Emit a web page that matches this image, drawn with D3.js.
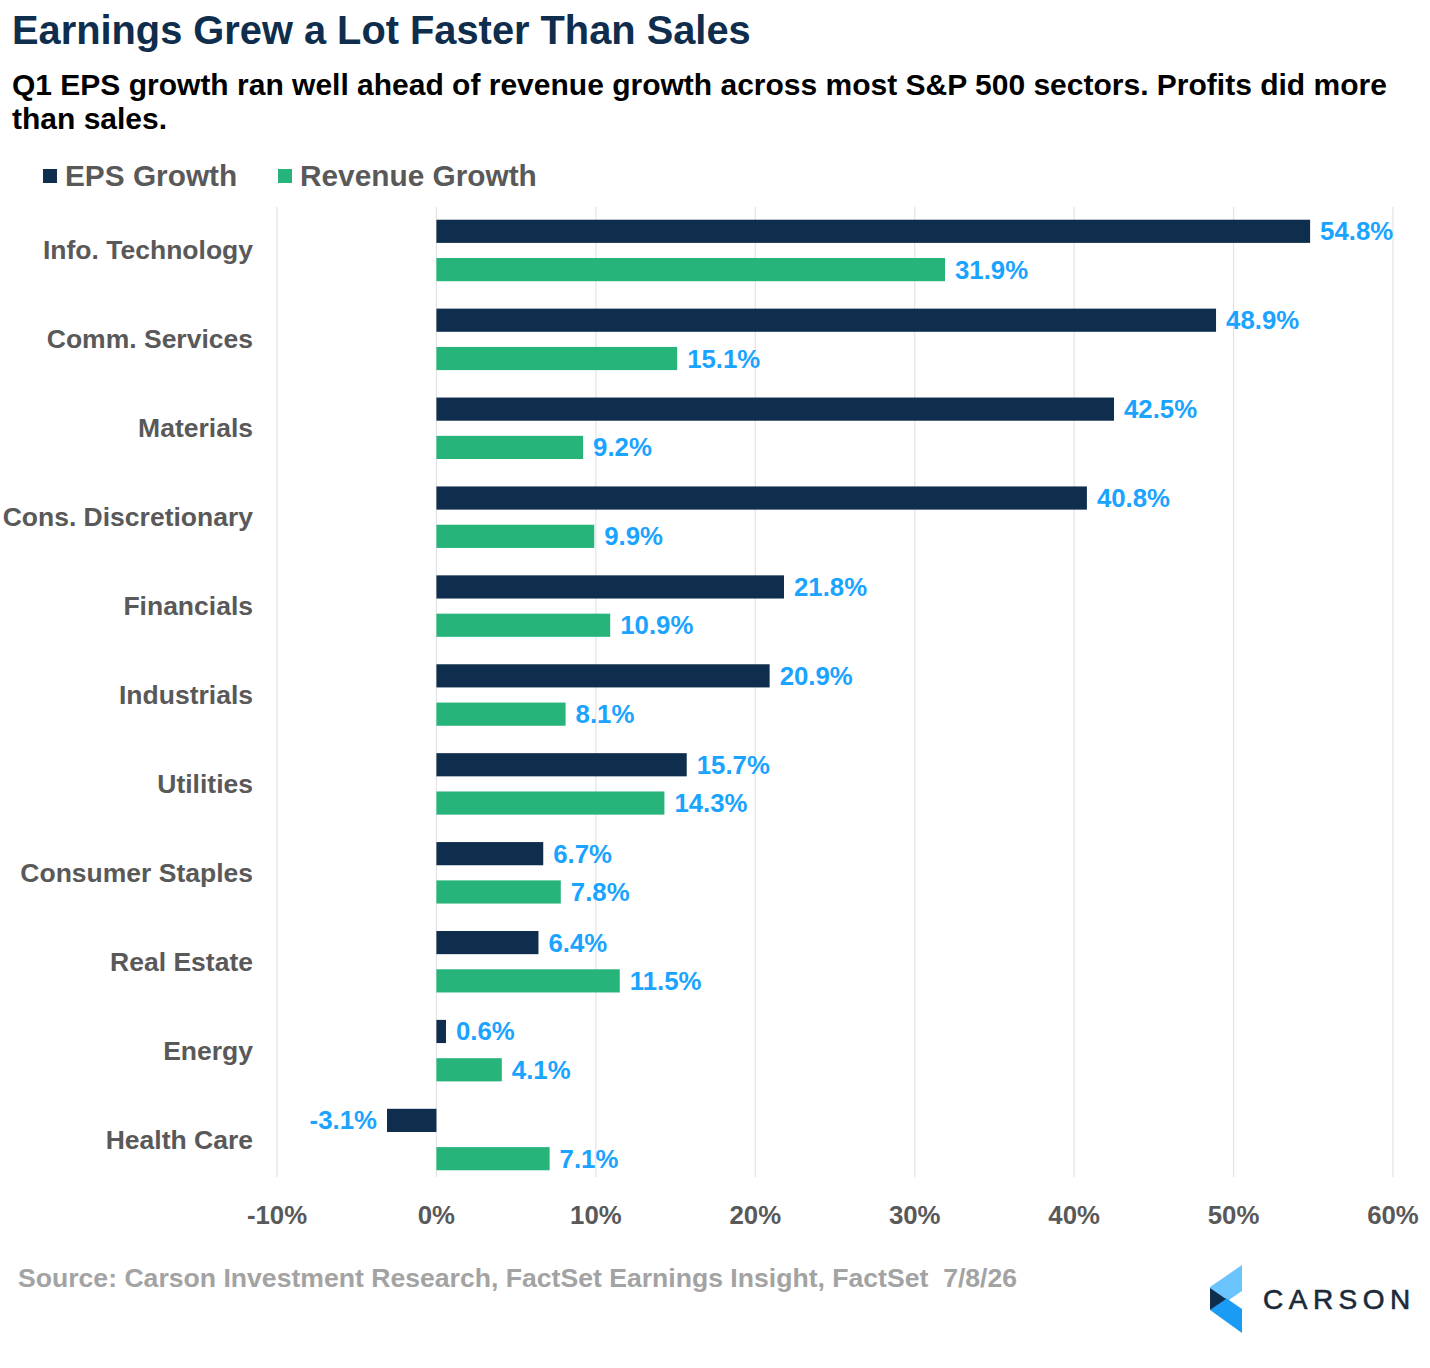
<!DOCTYPE html>
<html>
<head>
<meta charset="utf-8">
<script src="https://cdn.jsdelivr.net/npm/d3@7"></script>
<style>
  body { margin: 0; background: #fff; }
  svg { display: block; font-family: "Liberation Sans", Arial, sans-serif; }
</style>
</head>
<body>
<svg id="chart" width="1430" height="1368"></svg>
<script>
const sectors = ["Info. Technology", "Comm. Services", "Materials", "Cons. Discretionary",
  "Financials", "Industrials", "Utilities", "Consumer Staples", "Real Estate", "Energy", "Health Care"];
const epsGrowth = [54.8, 48.9, 42.5, 40.8, 21.8, 20.9, 15.7, 6.7, 6.4, 0.6, -3.1];
const revGrowth = [31.9, 15.1, 9.2, 9.9, 10.9, 8.1, 14.3, 7.8, 11.5, 4.1, 7.1];
const xTicks = [-10, 0, 10, 20, 30, 40, 50, 60];
const seriesNames = ["EPS Growth", "Revenue Growth"];
const seriesColors = ["#0f2d4c", "#26b47a"];

const svg = d3.select("#chart");
const labelColor = "#595959";
const valueColor = "#1aa3ff";

// titles
svg.append("text")
  .attr("x", 12).attr("y", 44)
  .attr("font-size", 39.8).attr("font-weight", 700)
  .attr("fill", "#0f2d4c")
  .text("Earnings Grew a Lot Faster Than Sales");

svg.append("text")
  .attr("x", 12).attr("y", 95)
  .attr("font-size", 30).attr("font-weight", 700).attr("fill", "#000")
  .text("Q1 EPS growth ran well ahead of revenue growth across most S&P 500 sectors. Profits did more");
svg.append("text")
  .attr("x", 12).attr("y", 129)
  .attr("font-size", 30).attr("font-weight", 700).attr("fill", "#000")
  .text("than sales.");

// legend
const legendX = [43, 278];
seriesNames.forEach((name, i) => {
  svg.append("rect")
    .attr("x", legendX[i]).attr("y", 169)
    .attr("width", 14).attr("height", 14)
    .attr("fill", seriesColors[i]);
  svg.append("text")
    .attr("x", legendX[i] + 22).attr("y", 186)
    .attr("font-size", 29.8).attr("font-weight", 700)
    .attr("fill", labelColor)
    .text(name);
});

// scales
const x = d3.scaleLinear().domain([-10, 60]).range([277, 1393]);
const y = d3.scaleBand().domain(sectors).range([206, 1184]);
const inner = d3.scaleBand().domain([0, 1]).range([0, y.bandwidth()])
  .paddingInner(0.395).paddingOuter(0.358);

// gridlines
svg.append("g")
  .selectAll("line")
  .data(xTicks)
  .join("line")
  .attr("x1", d => x(d)).attr("x2", d => x(d))
  .attr("y1", 207).attr("y2", 1177)
  .attr("stroke", "#e3e3e3").attr("stroke-width", 1.2);

// tick labels
svg.append("g")
  .selectAll("text")
  .data(xTicks)
  .join("text")
  .attr("x", d => x(d)).attr("y", 1224)
  .attr("text-anchor", "middle")
  .attr("font-size", 25.8).attr("font-weight", 700)
  .attr("fill", labelColor)
  .text(d => d + "%");

// category labels
svg.append("g")
  .selectAll("text")
  .data(sectors)
  .join("text")
  .attr("x", 253)
  .attr("y", d => y(d) + y.bandwidth() / 2 + 9)
  .attr("text-anchor", "end")
  .attr("font-size", 26.5).attr("font-weight", 700)
  .attr("fill", labelColor)
  .text(d => d);

// bars
const rows = [];
sectors.forEach((s, i) => {
  rows.push({ sector: s, series: 0, value: epsGrowth[i] });
  rows.push({ sector: s, series: 1, value: revGrowth[i] });
});

svg.append("g")
  .selectAll("rect")
  .data(rows)
  .join("rect")
  .attr("x", d => x(Math.min(0, d.value)))
  .attr("y", d => y(d.sector) + inner(d.series))
  .attr("width", d => Math.abs(x(d.value) - x(0)))
  .attr("height", inner.bandwidth())
  .attr("fill", d => seriesColors[d.series]);

// value labels
svg.append("g")
  .selectAll("text")
  .data(rows)
  .join("text")
  .attr("x", d => d.value < 0 ? x(d.value) - 10 : x(d.value) + 10)
  .attr("y", d => y(d.sector) + inner(d.series) + inner.bandwidth() / 2 + 9)
  .attr("text-anchor", d => d.value < 0 ? "end" : "start")
  .attr("font-size", 25.8).attr("font-weight", 700)
  .attr("fill", valueColor)
  .text(d => d.value.toFixed(1) + "%");

// source
svg.append("text")
  .attr("x", 18).attr("y", 1287)
  .attr("font-size", 26.6).attr("font-weight", 700)
  .attr("fill", "#a3a3a3")
  .style("white-space", "pre")
  .text("Source: Carson Investment Research, FactSet Earnings Insight, FactSet  7/8/26");

// logo
const logo = svg.append("g");
logo.append("polygon")
  .attr("points", "1242,1265 1242,1291 1226,1302 1210,1290 1210,1287")
  .attr("fill", "#6cc4ff");
logo.append("polygon")
  .attr("points", "1210,1310 1226,1298 1242,1309 1242,1333")
  .attr("fill", "#1a9cf5");
logo.append("polygon")
  .attr("points", "1210,1288 1226,1299 1210,1310")
  .attr("fill", "#0f2d4c");
logo.append("text")
  .attr("x", 1263).attr("y", 1309)
  .attr("font-size", 28).attr("font-weight", 400)
  .attr("letter-spacing", 5.5)
  .attr("fill", "#1b2a3a")
  .attr("stroke", "#1b2a3a").attr("stroke-width", 0.6)
  .text("CARSON");
</script>
</body>
</html>
